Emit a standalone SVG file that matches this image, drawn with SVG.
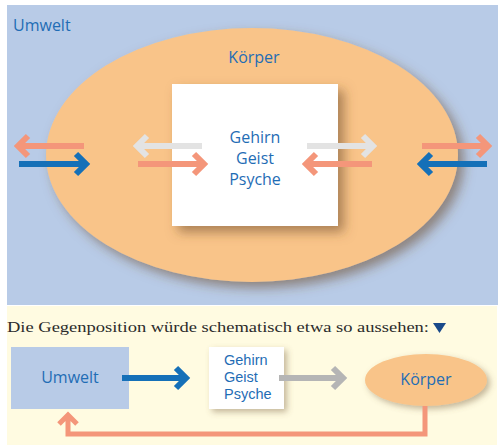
<svg xmlns="http://www.w3.org/2000/svg" width="498" height="445" viewBox="0 0 498 445">
<defs>
<style>
.lbl{font-family:"Open Sans","Liberation Sans",sans-serif;fill:#1f6db5;font-size:16px}
.sm{font-family:"Liberation Sans",sans-serif;fill:#1f6db5;font-size:14.5px}
.arr{fill:none;stroke-width:6;stroke-linejoin:miter;stroke-linecap:butt}
.sal{stroke:#f4967a}
.blu{stroke:#1570b8}
.gry{stroke:#e3e3e3}
.dgr{stroke:#b5b5b5}
</style>
<filter id="sh" x="-20%" y="-20%" width="150%" height="150%">
<feDropShadow dx="6" dy="6" stdDeviation="6" flood-color="#6b4a2a" flood-opacity="0.55"/>
</filter>
<filter id="sh2" x="-20%" y="-20%" width="150%" height="150%">
<feDropShadow dx="3" dy="3" stdDeviation="3" flood-color="#7a6040" flood-opacity="0.45"/>
</filter>
</defs>
<rect x="7" y="5" width="491" height="300" fill="#b8cbe7"/>
<rect x="7" y="306" width="490" height="139" fill="#fffbe1"/>
<g id="koerper">
<ellipse cx="252" cy="155" rx="206" ry="127" fill="#f9c489" filter="url(#sh)"/>
<text class="lbl" x="254" y="63" text-anchor="middle">Körper</text>
</g>
<g id="umwelt">
<text class="lbl" x="13" y="31" font-size="17">Umwelt</text>
</g>
<g id="gehirn">
<rect x="172" y="84" width="166" height="142" fill="#ffffff" filter="url(#sh)"/>
<text class="lbl" x="255" y="143" text-anchor="middle">Gehirn</text>
<text class="lbl" x="255" y="164" text-anchor="middle">Geist</text>
<text class="lbl" x="255" y="185" text-anchor="middle">Psyche</text>
</g>
<g id="connectors">
<path class="arr sal" d="M84 146H18M28 136l-10 10 10 10"/>
<path class="arr blu" d="M19 164H86M76 154l10 10-10 10"/>
<path class="arr gry" d="M202 146H137M147 136l-10 10 10 10"/>
<path class="arr sal" d="M138 164H204M194 154l10 10-10 10"/>
<path class="arr gry" d="M307 146H373M363 136l10 10-10 10"/>
<path class="arr sal" d="M372 164H306M316 154l-10 10 10 10"/>
<path class="arr sal" d="M422 146H488M478 136l10 10-10 10"/>
<path class="arr blu" d="M487 164H421M431 154l-10 10 10 10"/>
</g>
<text x="7" y="332" font-family="Liberation Serif, serif" font-size="15" fill="#2b2b2b" textLength="422" lengthAdjust="spacingAndGlyphs">Die Gegenposition würde schematisch etwa so aussehen:</text>
<path d="M433 323h13l-6.5 10z" fill="#1a4a8a"/>
<g id="umwelt2">
<rect x="11" y="347" width="118" height="62" fill="#b8cbe7"/>
<text class="lbl" x="70" y="383" text-anchor="middle" font-size="15">Umwelt</text>
</g>
<g id="gehirn2">
<rect x="209" y="347" width="75" height="62" fill="#ffffff" filter="url(#sh2)"/>
<text class="sm" x="224" y="365">Gehirn</text>
<text class="sm" x="224" y="382">Geist</text>
<text class="sm" x="224" y="399">Psyche</text>
</g>
<g id="koerper2">
<ellipse cx="426" cy="380" rx="61" ry="26" fill="#f9c489" filter="url(#sh2)"/>
<text class="lbl" x="426" y="385" text-anchor="middle" font-size="15">Körper</text>
</g>
<g id="connectors2">
<path class="arr blu" d="M122 378H186M176 368l10 10-10 10"/>
<path class="arr dgr" d="M279 378H343M333 368l10 10-10 10"/>
<path class="arr" style="stroke:#f4967a;stroke-width:5" d="M425 406V434H68V415M59 424l9-9 9 9"/>
</g>
</svg>
